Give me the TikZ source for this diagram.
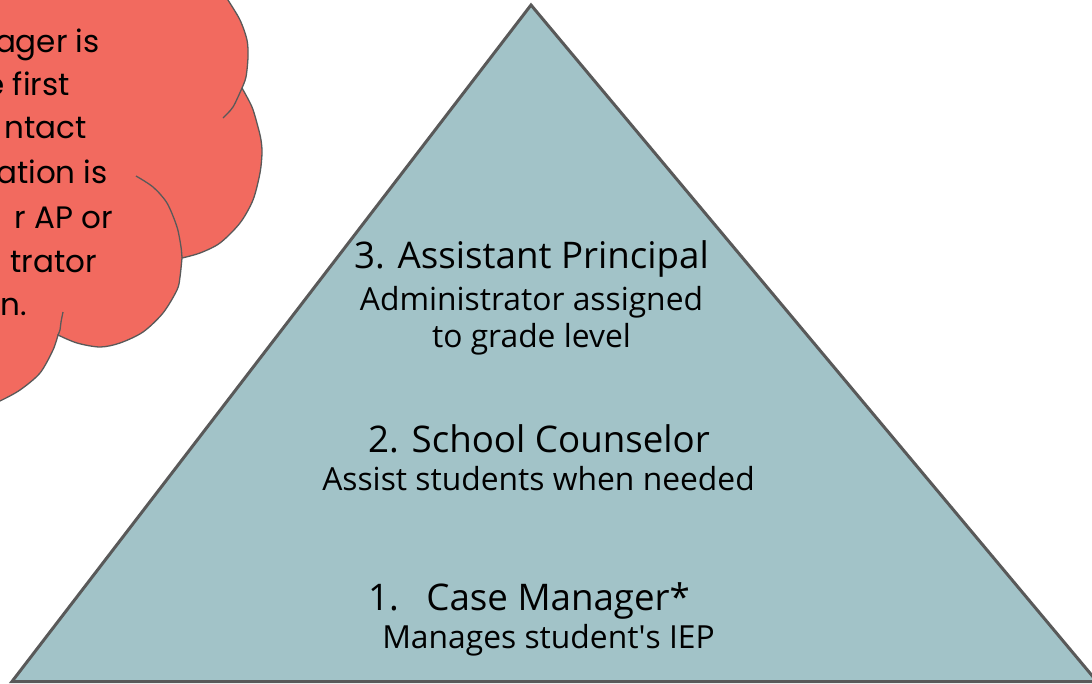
\documentclass[tikz,border=0pt]{standalone}
\usepackage{fontspec}
\setmainfont{Open Sans}
\newfontfamily\cloudfont{Poppins}
\definecolor{trifill}{HTML}{A2C3C8}
\definecolor{cloudred}{HTML}{F26A5F}
\definecolor{edgegray}{HTML}{595959}
\begin{document}
\begin{tikzpicture}[x=1pt,y=-1pt,
  title/.style={font=\fontsize{36.7}{42}\selectfont, anchor=base, inner sep=0pt, text=black},
  subtitle/.style={font=\fontsize{31.8}{36}\selectfont, anchor=base, inner sep=0pt, text=black},
  cloudtxt/.style={font=\cloudfont\fontsize{31}{38}\selectfont, anchor=base east, inner sep=0pt, text=black},
  cloudline/.style={draw=edgegray, line width=1.3pt}]
\useasboundingbox (0,0) rectangle (1092,683);
\begin{scope}
\clip (0,0) rectangle (1092,683);
% triangle
\coordinate (apex) at (531,5);
\coordinate (bl) at (12,681.5);
\coordinate (br) at (1097,681.5);
\draw[fill=trifill, draw=edgegray, line width=3pt, line join=miter] (apex) -- (br) -- (bl) -- cycle;
% cloud
\path[fill=cloudred, cloudline]
  (-10,-10) -- (222,-10) -- plot[smooth] coordinates {(222,-10)(228,0)(240,20)(247,40)(248,57)(246,77)(242,88)}
  -- plot[smooth] coordinates {(242,88)(252,107)(258,127)(261,140)(262,153)(260,173)(253,200)(240,223)(220,243)(200,253)(182,258)}
  -- plot[smooth] coordinates {(182,258)(180,277)(177,290)(163,313)(143,332)(120,343)(100,347)(77,343)(58,335)}
  -- plot[smooth] coordinates {(58,335)(53,350)(40,373)(20,390)(0,401)(-10,405)}
  -- (-10,-10) -- cycle;
\draw[cloudline] plot[smooth] coordinates {(242,88)(233,107)(223,118)};
\draw[cloudline] plot[smooth] coordinates {(136,176)(153,187)(167,203)(177,227)(181,247)(182,258)};
\draw[cloudline] plot[smooth] coordinates {(63,312)(61,322)(60,330)(58,335)};
% cloud text
\node[cloudtxt] (c1) at (100,52) {ager is};
\node[cloudtxt] (c2) at (70,95) {e first};
\node[cloudtxt] (c3) at (87,138) {ntact};
\node[cloudtxt] (c4) at (108,183) {ation is};
\node[cloudtxt] (c5) at (113,228) {r AP or};
\node[cloudtxt] (c6) at (97,272) {trator};
\node[cloudtxt] (c7) at (27,315) {n.};
\end{scope}
% pyramid texts
\node[title] (t3) at (531.5,268) {3. Assistant Principal};
\node[subtitle] (s3a) at (531.5,310) {Administrator assigned};
\node[subtitle] (s3b) at (531.5,347) {to grade level};
\node[title] (t2) at (539,452) {2. School Counselor};
\node[subtitle] (s2) at (538.5,490) {Assist students when needed};
\node[title] (t1) at (529,610) {1.\hspace{0.75em}Case Manager*};
\node[subtitle] (s1) at (548.5,648) {Manages student\textquotesingle s IEP};
\end{tikzpicture}
\end{document}
